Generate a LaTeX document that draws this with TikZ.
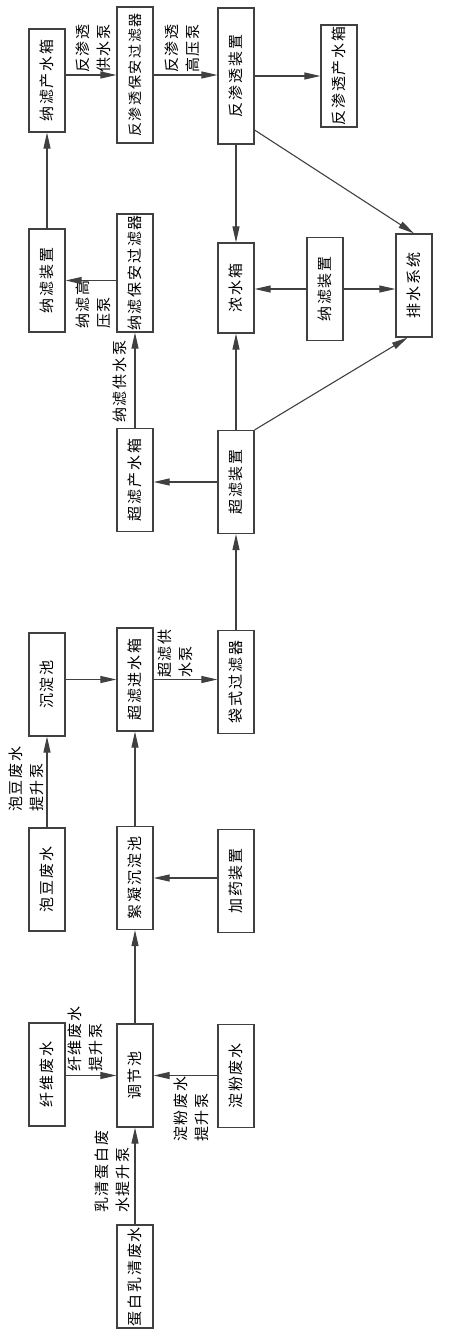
\documentclass[tikz,border=0pt]{standalone}
\usepackage{fontspec}
\setmainfont{Noto Sans CJK SC}[LetterSpace=12]
\usetikzlibrary{arrows.meta}
\newcommand{\vtext}[1]{\rotatebox{90}{#1}}
\tikzset{
  box/.style={draw=black!75, line width=1.2pt, minimum width=36pt,
              minimum height=103pt, inner sep=0pt, font=\fontsize{15}{18}\selectfont},
  lbl/.style={rotate=90, anchor=west, align=left, inner sep=0pt,
              font=\fontsize{15}{21}\selectfont},
  flow/.style={-{Triangle[length=16pt,width=7pt]}, draw=black!75, line width=1.1pt},
}
\begin{document}
\begin{tikzpicture}[x=1pt, y=-1pt]
\useasboundingbox (0,0) rectangle (450,1336);
% columns of the (turned) flow sheet
\def\ca{47} \def\cb{135} \def\cc{236} \def\cd{325} \def\ce{414}

% reverse osmosis stage
\node[box] (nfcs) at (\ca,80.5) {\vtext{纳滤产水箱}};
\node[box, minimum height=136pt, font=\fontsize{14}{18}\selectfont] (rosf) at (\cb,75) {\vtext{反渗透保安过滤器}};
\node[box, minimum height=136pt] (rod) at (\cc,76) {\vtext{反渗透装置}};
\node[box, minimum height=102pt] (rocs) at (339,76) {\vtext{反渗透产水箱}};

% nanofiltration stage and concentrate
\node[box] (nfd) at (\ca,280.5) {\vtext{纳滤装置}};
\node[box, minimum height=118pt] (nfsf) at (\cb,273) {\vtext{纳滤保安过滤器}};
\node[box, minimum height=90pt] (nsx) at (\cc,288) {\vtext{浓水箱}};
\node[box] (nfd2) at (\cd,289) {\vtext{纳滤装置}};
\node[box] (psx) at (\ce,285.5) {\vtext{排水系统}};

% ultrafiltration stage
\node[box] (ufcs) at (\cb,480) {\vtext{超滤产水箱}};
\node[box] (ufd) at (\cc,482) {\vtext{超滤装置}};
\node[box] (cdc) at (\ca,684.5) {\vtext{沉淀池}};
\node[box] (ufjs) at (\cb,679.5) {\vtext{超滤进水箱}};
\node[box] (dsf) at (\cc,682) {\vtext{袋式过滤器}};

% pretreatment
\node[box] (pdfs) at (\ca,879.5) {\vtext{泡豆废水}};
\node[box] (xncd) at (\cb,878) {\vtext{絮凝沉淀池}};
\node[box] (jyzz) at (\cc,881) {\vtext{加药装置}};
\node[box] (xwfs) at (\ca,1074.5) {\vtext{纤维废水}};
\node[box] (tjc) at (\cb,1075.5) {\vtext{调节池}};
\node[box] (dffs) at (\cc,1076) {\vtext{淀粉废水}};
\node[box] (dbfs) at (\cb,1276.5) {\vtext{蛋白乳清废水}};

% pump labels
\node[lbl] (lrogs) at (93.5,73) {反渗透\\供水泵};
\node[lbl] (lrogy) at (182.5,73) {反渗透\\高压泵};
\node[lbl] (lnfgy) at (93.5,329) {纳滤高\\压泵};
\node[lbl] (lnfgs) at (120,423) {纳滤供水泵};
\node[lbl] (lufgs) at (175,678) {超滤供\\水泵};
\node[lbl] (lpdts) at (26,812) {泡豆废水\\提升泵};
\node[lbl] (lxwts) at (85.5,1072) {纤维废水\\提升泵};
\node[lbl] (ldfts) at (191,1142) {淀粉废水\\提升泵};
\node[lbl] (ldbts) at (112.5,1213) {乳清蛋白废\\水提升泵};

% main line, bottom to top
\draw[flow] (dbfs.north) -- (tjc.south);
\draw[flow] (xwfs.east |- tjc.east) -- (tjc.west);
\draw[flow] (dffs.west |- tjc.east) -- (tjc.east);
\draw[flow] (tjc.north) -- (xncd.south);
\draw[flow] (jyzz.west |- xncd.east) -- (xncd.east);
\draw[flow] (xncd.north) -- (ufjs.south);
\draw[flow] (pdfs.north) -- (cdc.south);
\draw[flow] (cdc.east |- ufjs.west) -- (ufjs.west);
\draw[flow] (ufjs.east) -- (dsf.west |- ufjs.east);
\draw[flow] (dsf.north -| ufd.south) -- (ufd.south);
\draw[flow] (ufd.west) -- (ufcs.east |- ufd.west);
\draw[flow] (ufd.north) -- (nsx.south -| ufd.north);
\draw[flow] (ufd.north east) -- (psx.-97);
\draw[flow] (ufcs.north) -- (nfsf.south -| ufcs.north);
\draw[flow] (nfsf.west |- nfd.east) -- (nfd.east);
\draw[flow] (nfd.north) -- (nfcs.south);
\draw[flow] (nfcs.east |- rosf.west) -- (rosf.west);
\draw[flow] (rosf.east) -- (rod.west |- rosf.east);
\draw[flow] (rod.east) -- (rocs.west |- rod.east);
\draw[flow] (rod.south) -- (nsx.north -| rod.south);
\draw[flow] (rod.-71) -- (psx.north);
\draw[flow] (nfd2.west) -- (nsx.east |- nfd2.west);
\draw[flow] (nfd2.east) -- (psx.west |- nfd2.east);
\end{tikzpicture}
\end{document}
